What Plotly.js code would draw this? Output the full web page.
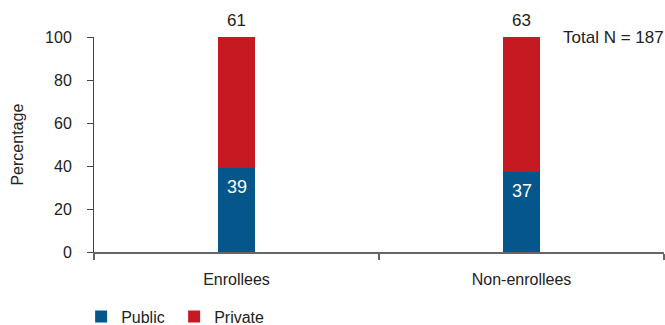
<!DOCTYPE html>
<html>
<head>
<meta charset="utf-8">
<script src="https://cdn.plot.ly/plotly-3.0.1.min.js"></script>
<style>html,body{margin:0;padding:0;background:#fff;}#chart{width:665px;height:325px;}</style>
</head>
<body>
<div id="chart"></div>
<script>
const categories = ["Enrollees", "Non-enrollees"];
const publicValues = [39, 37];
const privateValues = [61, 63];
const seriesNames = ["Public", "Private"];
const yTitle = "Percentage";
const noteText = "Total N = 187";

const FONT = "Liberation Sans, Arial, sans-serif";
const TXT = "#222";

const traces = [
  {
    type: "bar", name: seriesNames[0], x: categories, y: publicValues,
    marker: {color: "#04568b"}, width: 0.133, hoverinfo: "none"
  },
  {
    type: "bar", name: seriesNames[1], x: categories, y: privateValues,
    marker: {color: "#c61a22"}, width: 0.133, hoverinfo: "none"
  }
];

const annotations = [];
categories.forEach((c, i) => {
  annotations.push({
    x: c, y: publicValues[i], xref: "x", yref: "y", text: String(publicValues[i]),
    showarrow: false, yanchor: "middle", yshift: -19,
    font: {family: FONT, size: 18, color: "#ffffff"}
  });
  annotations.push({
    x: c, y: publicValues[i] + privateValues[i], xref: "x", yref: "y", text: String(privateValues[i]),
    showarrow: false, yanchor: "middle", yshift: 17,
    font: {family: FONT, size: 17, color: TXT}
  });
});
annotations.push({
  text: noteText, xref: "paper", yref: "paper", x: 1.004, y: 1, xanchor: "right", yanchor: "middle",
  showarrow: false, font: {family: FONT, size: 17, color: TXT}
});
annotations.push({
  text: yTitle, xref: "paper", yref: "paper", x: -0.135, y: 0.5, xanchor: "center", yanchor: "middle",
  textangle: -90, showarrow: false, font: {family: FONT, size: 16, color: TXT}
});

const layout = {
  width: 665, height: 325,
  margin: {l: 94, r: 1, t: 37, b: 73, autoexpand: false},
  paper_bgcolor: "#fff", plot_bgcolor: "#fff",
  barmode: "stack",
  font: {family: FONT, size: 16, color: TXT},
  showlegend: true,
  legend: {orientation: "h", xref: "container", yref: "paper", x: 0.122, xanchor: "left",
           y: -0.3, yanchor: "middle", entrywidth: 48,
           font: {family: FONT, size: 16, color: TXT}, traceorder: "normal"},
  xaxis: {
    type: "category", range: [-0.5, 1.5],
    showline: true, linecolor: "#666", linewidth: 1.5,
    ticks: "outside", tickson: "boundaries", ticklen: 6, tickcolor: "#666", tickwidth: 1.5,
    ticklabelstandoff: 12,
    tickfont: {family: FONT, size: 16, color: TXT},
    showgrid: false, zeroline: false, fixedrange: true
  },
  yaxis: {
    range: [0, 100], tickvals: [0, 20, 40, 60, 80, 100],
    showline: true, linecolor: "#444", linewidth: 1,
    ticks: "outside", ticklen: 6, tickcolor: "#444",
    ticklabelstandoff: 12,
    tickfont: {family: FONT, size: 16, color: TXT},
    showgrid: false, zeroline: false,
    fixedrange: true
  },
  annotations: annotations
};

Plotly.newPlot("chart", traces, layout, {displayModeBar: false, staticPlot: true});
</script>
</body>
</html>
